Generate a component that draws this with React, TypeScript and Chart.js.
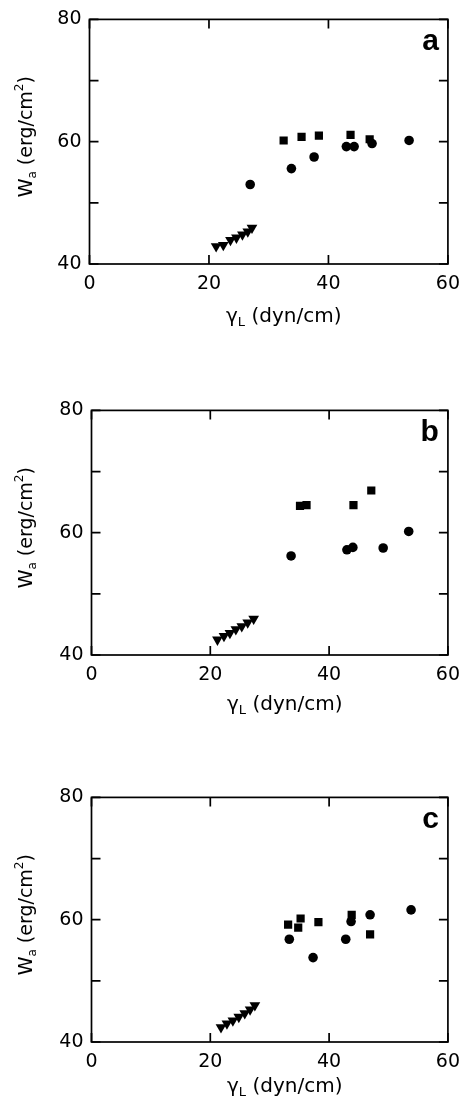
import React, { useEffect, useRef } from 'react';
import { Chart, registerables } from 'chart.js';

Chart.register(...registerables);

// ---- axis ticks ----
const xTickValues = [0, 20, 40, 60];
const yTickLabels = [40, 60, 80];

// ---- panel a ----
const aSquareX = [32.5, 35.5, 38.4, 43.7, 46.9];
const aSquareY = [60.2, 60.8, 61.0, 61.1, 60.4];
const aCircleX = [26.9, 33.8, 37.6, 43.0, 44.3, 47.3, 53.5];
const aCircleY = [53.0, 55.6, 57.5, 59.2, 59.2, 59.7, 60.2];
const aTriX = [21.2, 22.4, 23.6, 24.6, 25.6, 26.5, 27.2];
const aTriY = [42.9, 43.1, 43.9, 44.3, 44.8, 45.3, 45.9];

// ---- panel b ----
const bSquareX = [35.1, 36.2, 44.1, 47.1];
const bSquareY = [64.4, 64.5, 64.5, 66.9];
const bCircleX = [33.6, 43.0, 44.0, 49.1, 53.4];
const bCircleY = [56.2, 57.2, 57.6, 57.5, 60.2];
const bTriX = [21.2, 22.3, 23.3, 24.3, 25.3, 26.3, 27.3];
const bTriY = [42.5, 43.1, 43.6, 44.2, 44.7, 45.3, 45.9];

// ---- panel c ----
const cSquareX = [33.1, 34.8, 35.2, 38.2, 43.8, 46.9];
const cSquareY = [59.2, 58.7, 60.2, 59.6, 60.8, 57.6];
const cCircleX = [33.3, 37.3, 42.8, 43.7, 46.9, 53.8];
const cCircleY = [56.8, 53.8, 56.8, 59.7, 60.8, 61.6];
const cTriX = [21.8, 22.8, 23.8, 24.8, 25.8, 26.7, 27.5];
const cTriY = [42.4, 43.0, 43.5, 44.1, 44.7, 45.3, 46.0];

const zip = (xs: number[], ys: number[]) => xs.map((x, i) => ({ x, y: ys[i] }));

const panels = [
  { letter: 'a', top: 0, h: 340, titleDy: 58, left: 89.5, right: 15, sq: [aSquareX, aSquareY], ci: [aCircleX, aCircleY], tr: [aTriX, aTriY] },
  { letter: 'b', top: 391, h: 340, titleDy: 55, left: 91.5, right: 13, sq: [bSquareX, bSquareY], ci: [bCircleX, bCircleY], tr: [bTriX, bTriY] },
  { letter: 'c', top: 778, h: 323, titleDy: 50, left: 91.5, right: 13, sq: [cSquareX, cSquareY], ci: [cCircleX, cCircleY], tr: [cTriX, cTriY] },
];

const CANVAS_W = 469;
const PAD_TOP = 19;
const PLOT_H = 245;

const framePlugin = {
  id: 'frame',
  beforeDatasetsDraw(chart: any) {
    const { ctx, chartArea } = chart;
    const { left, right, top, bottom } = chartArea;
    const xs = chart.scales.x;
    const ys = chart.scales.y;
    ctx.save();
    ctx.strokeStyle = '#000';
    ctx.lineWidth = 1.7;
    ctx.strokeRect(left, top, right - left, bottom - top);
    const L = 9;
    ctx.beginPath();
    xs.ticks.forEach((t: any) => {
      const px = xs.getPixelForValue(t.value);
      ctx.moveTo(px, bottom);
      ctx.lineTo(px, bottom - L);
      ctx.moveTo(px, top);
      ctx.lineTo(px, top + L);
    });
    ys.ticks.forEach((t: any) => {
      const py = ys.getPixelForValue(t.value);
      ctx.moveTo(left, py);
      ctx.lineTo(left + L, py);
      ctx.moveTo(right, py);
      ctx.lineTo(right - L, py);
    });
    ctx.stroke();
    ctx.restore();
  },
};

const textPlugin = {
  id: 'texts',
  afterDraw(chart: any, _args: any, opts: any) {
    const { ctx, chartArea } = chart;
    const { left, right, top, bottom } = chartArea;
    ctx.save();
    ctx.fillStyle = '#000';
    // panel letter
    ctx.font = 'bold 30px "Liberation Sans", Arial, sans-serif';
    ctx.textAlign = 'right';
    ctx.textBaseline = 'alphabetic';
    ctx.fillText(opts.letter, right - 9, top + 31);

    // x title: γL (dyn/cm)
    ctx.textAlign = 'left';
    const big = '20px "DejaVu Sans", sans-serif';
    const small = '13px "DejaVu Sans", sans-serif';
    const xParts = [
      { t: 'γ', f: big, dy: 0 },
      { t: 'L', f: small, dy: 4 },
      { t: ' (dyn/cm)', f: big, dy: 0 },
    ];
    let total = 0;
    xParts.forEach((p) => { ctx.font = p.f; total += ctx.measureText(p.t).width; });
    let cx = (left + right) / 2 + 15 - total / 2;
    const by = bottom + opts.titleDy;
    xParts.forEach((p) => {
      ctx.font = p.f;
      ctx.fillText(p.t, cx, by + p.dy);
      cx += ctx.measureText(p.t).width;
    });

    // y title: Wa (erg/cm2)
    const ybig = '19px "DejaVu Sans", sans-serif';
    const ysmall = '12px "DejaVu Sans", sans-serif';
    const yParts = [
      { t: 'W', f: ybig, dy: 0 },
      { t: 'a', f: ysmall, dy: 4 },
      { t: ' (erg/cm', f: ybig, dy: 0 },
      { t: '2', f: ysmall, dy: -9 },
      { t: ')', f: ybig, dy: 0 },
    ];
    let ytotal = 0;
    yParts.forEach((p) => { ctx.font = p.f; ytotal += ctx.measureText(p.t).width; });
    ctx.translate(31.5, (top + bottom) / 2 - 5);
    ctx.rotate(-Math.PI / 2);
    let yx = -ytotal / 2;
    yParts.forEach((p) => {
      ctx.font = p.f;
      ctx.fillText(p.t, yx, p.dy);
      yx += ctx.measureText(p.t).width;
    });
    ctx.restore();
  },
};

function Panel({ cfg }: { cfg: any }) {
  const ref = useRef<HTMLCanvasElement | null>(null);
  useEffect(() => {
    if (!ref.current) return;
    const tickFont = { family: '"DejaVu Sans", sans-serif', size: 19 };
    const chart = new Chart(ref.current, {
      type: 'scatter',
      data: {
        datasets: [
          {
            label: 'squares',
            data: zip(cfg.sq[0], cfg.sq[1]),
            pointStyle: 'rect',
            pointRadius: 5.8,
            backgroundColor: '#000',
            borderColor: '#000',
            borderWidth: 0,
          },
          {
            label: 'circles',
            data: zip(cfg.ci[0], cfg.ci[1]),
            pointStyle: 'circle',
            pointRadius: 4.8,
            backgroundColor: '#000',
            borderColor: '#000',
            borderWidth: 0,
          },
          {
            label: 'triangles',
            data: zip(cfg.tr[0], cfg.tr[1]),
            pointStyle: 'triangle',
            rotation: 180,
            pointRadius: 6.2,
            backgroundColor: '#000',
            borderColor: '#000',
            borderWidth: 0,
          },
        ],
      },
      options: {
        responsive: false,
        animation: false,
        devicePixelRatio: 1,
        layout: { padding: { top: PAD_TOP, right: cfg.right, left: 0, bottom: 0 } },
        plugins: {
          legend: { display: false },
          tooltip: { enabled: false },
          texts: { letter: cfg.letter, titleDy: cfg.titleDy },
        } as any,
        scales: {
          x: {
            type: 'linear',
            min: 0,
            max: 60,
            afterBuildTicks: (s: any) => { s.ticks = xTickValues.map((v) => ({ value: v })); },
            afterFit: (s: any) => { s.height = cfg.h - PAD_TOP - PLOT_H; },
            grid: { display: false, drawTicks: false },
            border: { display: false },
            ticks: { color: '#000', font: tickFont, padding: 9, maxRotation: 0, autoSkip: false },
          },
          y: {
            type: 'linear',
            min: 40,
            max: 80,
            afterFit: (s: any) => { s.width = cfg.left; },
            grid: { display: false, drawTicks: false },
            border: { display: false },
            ticks: {
              stepSize: 10,
              color: '#000',
              font: tickFont,
              padding: 8,
              autoSkip: false,
              callback: (v: any) => (yTickLabels.includes(Number(v)) ? String(v) : ''),
            },
          },
        },
      },
      plugins: [framePlugin, textPlugin],
    } as any);
    return () => chart.destroy();
  }, [cfg]);
  return (
    <canvas
      ref={ref}
      width={CANVAS_W}
      height={cfg.h}
      style={{ position: 'absolute', left: 0, top: cfg.top, width: CANVAS_W, height: cfg.h }}
    />
  );
}

export default function App() {
  return (
    <div style={{ position: 'absolute', left: 0, top: 0, width: 469, height: 1101, overflow: 'hidden', background: '#fff' }}>
      {panels.map((p) => (
        <Panel key={p.letter} cfg={p} />
      ))}
    </div>
  );
}
